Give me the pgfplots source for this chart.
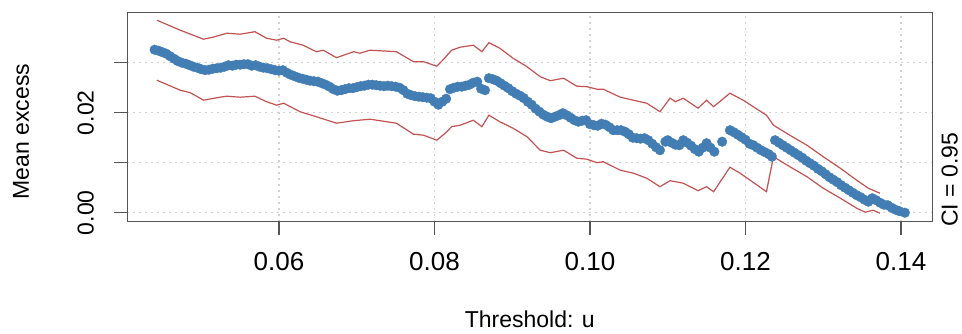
\documentclass[border=0pt]{standalone}
\usepackage{pgfplots}
\pgfplotsset{compat=1.18}
\usepackage{fontspec}
\setmainfont{Liberation Sans}
\definecolor{steel}{RGB}{66,125,180}
\definecolor{cired}{RGB}{196,82,82}
\definecolor{boxgray}{RGB}{85,85,85}
\begin{document}
\begin{tikzpicture}[font=\fontsize{23}{27}\selectfont]
\useasboundingbox (-127.3pt,-111.3pt) rectangle (834.7pt,221.7pt);
\begin{axis}[
  at={(0pt,0pt)}, anchor=south west,
  scale only axis, width=805pt, height=209pt,
  xmin=0.04049, xmax=0.14403, ymin=-0.0018, ymax=0.0400,
  scaled x ticks=false, scaled y ticks=false,
  axis line style={boxgray, line width=1.5pt},
  xtick={0.06,0.08,0.10,0.12,0.14},
  xticklabels={0.06,0.08,0.10,0.12,0.14},
  ytick={0,0.01,0.02,0.03},
  yticklabels={0.00,,0.02,},
  tick align=outside, tick pos=left,
  major tick length=13pt,
  tick style={boxgray, line width=1.2pt},
  grid=major,
  major grid style={gray!35, dash pattern=on 2pt off 4pt, line width=1.1pt},
  xticklabel shift=14pt,
  yticklabel shift=17pt,
  x tick label style={font=\fontsize{26}{30}\selectfont},
  y tick label style={rotate=90, anchor=south},
  clip=false,
]
\addplot[cired, line width=1.2pt] coordinates {
(0.0443,0.0385)(0.0473,0.0365)(0.0503,0.0347)(0.0515,0.0351)(0.0524,0.0355)
(0.0533,0.0359)(0.0550,0.0357)(0.0569,0.0362)(0.0584,0.0349)(0.0597,0.0345)
(0.0606,0.0349)(0.0614,0.0342)(0.0631,0.0335)(0.0648,0.0322)(0.0657,0.0325)
(0.0674,0.0310)(0.0696,0.0322)(0.0704,0.0319)(0.0717,0.0325)(0.0751,0.0322)
(0.0773,0.0302)(0.0786,0.0302)(0.0803,0.0293)(0.0813,0.0309)(0.0822,0.0325)
(0.0833,0.0331)(0.0850,0.0335)(0.0861,0.0322)(0.0870,0.0340)(0.0884,0.0329)
(0.0901,0.0309)(0.0919,0.0292)(0.0936,0.0272)(0.0949,0.0264)(0.0966,0.0269)
(0.0983,0.0253)(0.0996,0.0252)(0.1009,0.0247)(0.1017,0.0247)(0.1039,0.0231)
(0.1056,0.0225)(0.1073,0.0219)(0.1090,0.0202)(0.1103,0.0229)(0.1110,0.0222)
(0.1120,0.0229)(0.1139,0.0209)(0.1150,0.0225)(0.1159,0.0212)(0.1180,0.0239)
(0.1197,0.0225)(0.1210,0.0212)(0.1227,0.0195)(0.1236,0.0175)(0.1257,0.0155)
(0.1279,0.0135)(0.1300,0.0112)(0.1322,0.0089)(0.1343,0.0065)(0.1358,0.0049)
(0.1373,0.0039)
};
\addplot[cired, line width=1.2pt] coordinates {
(0.0443,0.0265)(0.0473,0.0245)(0.0486,0.0240)(0.0503,0.0225)(0.0524,0.0231)
(0.0533,0.0233)(0.0550,0.0231)(0.0569,0.0233)(0.0584,0.0222)(0.0597,0.0215)
(0.0606,0.0219)(0.0627,0.0202)(0.0648,0.0192)(0.0674,0.0179)(0.0696,0.0184)
(0.0717,0.0187)(0.0751,0.0179)(0.0773,0.0157)(0.0786,0.0155)(0.0803,0.0145)
(0.0816,0.0162)(0.0822,0.0172)(0.0833,0.0175)(0.0850,0.0185)(0.0861,0.0172)
(0.0870,0.0195)(0.0884,0.0182)(0.0901,0.0169)(0.0919,0.0152)(0.0936,0.0125)
(0.0949,0.0120)(0.0966,0.0125)(0.0983,0.0109)(0.0996,0.0107)(0.1009,0.0100)
(0.1017,0.0102)(0.1039,0.0085)(0.1056,0.0079)(0.1073,0.0069)(0.1090,0.0052)
(0.1103,0.0064)(0.1120,0.0059)(0.1139,0.0044)(0.1150,0.0052)(0.1159,0.0042)
(0.1180,0.0091)(0.1193,0.0079)(0.1206,0.0065)(0.1227,0.0042)(0.1236,0.0112)
(0.1257,0.0092)(0.1279,0.0072)(0.1300,0.0049)(0.1322,0.0029)(0.1343,0.0009)
(0.1354,0.0001)(0.1364,0.0005)(0.1373,-0.0001)
};
\addplot[only marks, mark=*, mark size=4.8pt, mark options={fill=steel, draw=steel}] coordinates {
(0.0440,0.0326)(0.0445,0.0324)(0.0450,0.0321)(0.0455,0.0318)(0.0460,0.0313)
(0.0465,0.0308)(0.0470,0.0303)(0.0475,0.0300)(0.0480,0.0298)(0.0485,0.0295)
(0.0490,0.0292)(0.0495,0.0290)(0.0500,0.0287)(0.0505,0.0285)(0.0510,0.0286)
(0.0515,0.0288)(0.0520,0.0289)(0.0525,0.0290)(0.0530,0.0292)(0.0535,0.0295)
(0.0540,0.0294)(0.0545,0.0296)(0.0550,0.0296)(0.0555,0.0297)(0.0560,0.0297)
(0.0565,0.0294)(0.0570,0.0295)(0.0575,0.0292)(0.0580,0.0290)(0.0585,0.0289)
(0.0590,0.0287)(0.0595,0.0285)(0.0600,0.0284)(0.0605,0.0285)(0.0610,0.0280)
(0.0615,0.0276)(0.0620,0.0273)(0.0625,0.0270)(0.0630,0.0268)(0.0635,0.0266)
(0.0640,0.0264)(0.0645,0.0263)(0.0650,0.0262)(0.0655,0.0259)(0.0660,0.0256)
(0.0665,0.0252)(0.0670,0.0247)(0.0675,0.0244)(0.0680,0.0245)(0.0685,0.0247)
(0.0690,0.0249)(0.0695,0.0249)(0.0700,0.0251)(0.0705,0.0253)(0.0710,0.0254)
(0.0715,0.0256)(0.0720,0.0256)(0.0725,0.0255)(0.0730,0.0254)(0.0735,0.0253)
(0.0740,0.0254)(0.0745,0.0253)(0.0750,0.0252)(0.0755,0.0250)(0.0760,0.0245)
(0.0765,0.0238)(0.0770,0.0235)(0.0775,0.0233)(0.0780,0.0232)(0.0785,0.0231)
(0.0790,0.0230)(0.0795,0.0229)(0.0800,0.0222)(0.0805,0.0216)(0.0810,0.0222)
(0.0815,0.0228)(0.0820,0.0247)(0.0825,0.0250)(0.0830,0.0252)(0.0835,0.0252)
(0.0840,0.0254)(0.0845,0.0256)(0.0850,0.0260)(0.0855,0.0262)(0.0860,0.0248)
(0.0865,0.0245)(0.0870,0.0269)(0.0875,0.0267)(0.0880,0.0264)(0.0885,0.0259)
(0.0890,0.0254)(0.0895,0.0249)(0.0900,0.0243)(0.0905,0.0238)(0.0910,0.0234)
(0.0915,0.0229)(0.0920,0.0222)(0.0925,0.0216)(0.0930,0.0208)(0.0935,0.0202)
(0.0940,0.0196)(0.0945,0.0192)(0.0950,0.0189)(0.0955,0.0192)(0.0960,0.0195)
(0.0965,0.0199)(0.0970,0.0195)(0.0975,0.0190)(0.0980,0.0185)(0.0985,0.0182)
(0.0990,0.0184)(0.0995,0.0185)(0.1000,0.0177)(0.1005,0.0175)(0.1010,0.0174)
(0.1015,0.0178)(0.1020,0.0176)(0.1025,0.0171)(0.1030,0.0165)(0.1035,0.0165)
(0.1040,0.0165)(0.1045,0.0162)(0.1050,0.0157)(0.1055,0.0150)(0.1060,0.0149)
(0.1065,0.0148)(0.1070,0.0149)(0.1075,0.0145)(0.1080,0.0138)(0.1085,0.0131)
(0.1090,0.0125)(0.1097,0.0142)(0.1100,0.0145)(0.1105,0.0140)(0.1110,0.0136)
(0.1115,0.0135)(0.1120,0.0145)(0.1125,0.0140)(0.1130,0.0134)(0.1135,0.0127)
(0.1140,0.0122)(0.1145,0.0130)(0.1150,0.0139)(0.1155,0.0130)(0.1160,0.0122)
(0.1170,0.0142)(0.1180,0.0165)(0.1185,0.0161)(0.1190,0.0156)(0.1195,0.0151)
(0.1200,0.0146)(0.1205,0.0138)(0.1210,0.0135)(0.1215,0.0130)(0.1220,0.0125)
(0.1225,0.0121)(0.1230,0.0117)(0.1234,0.0112)(0.1238,0.0145)(0.1243,0.0140)
(0.1248,0.0135)(0.1253,0.0130)(0.1258,0.0125)(0.1263,0.0120)(0.1268,0.0115)
(0.1273,0.0110)(0.1278,0.0104)(0.1283,0.0099)(0.1288,0.0094)(0.1293,0.0088)
(0.1298,0.0083)(0.1303,0.0077)(0.1308,0.0071)(0.1313,0.0066)(0.1318,0.0061)
(0.1323,0.0055)(0.1328,0.0050)(0.1333,0.0045)(0.1338,0.0040)(0.1343,0.0035)
(0.1348,0.0031)(0.1353,0.0026)(0.1358,0.0022)(0.1363,0.0029)(0.1368,0.0025)
(0.1373,0.0020)(0.1378,0.0016)(0.1383,0.0015)(0.1388,0.0010)(0.1393,0.0006)
(0.1398,0.0003)(0.1405,0.0000)
};
\end{axis}
\node[anchor=center] at (402.5pt,-98pt) {Threshold: u};
\node[rotate=90, anchor=center] at (-106.3pt,90pt) {Mean excess};
\node[rotate=90, anchor=west, inner sep=0pt] at (822.5pt,-5.3pt) {CI = 0.95};
\end{tikzpicture}
\end{document}
